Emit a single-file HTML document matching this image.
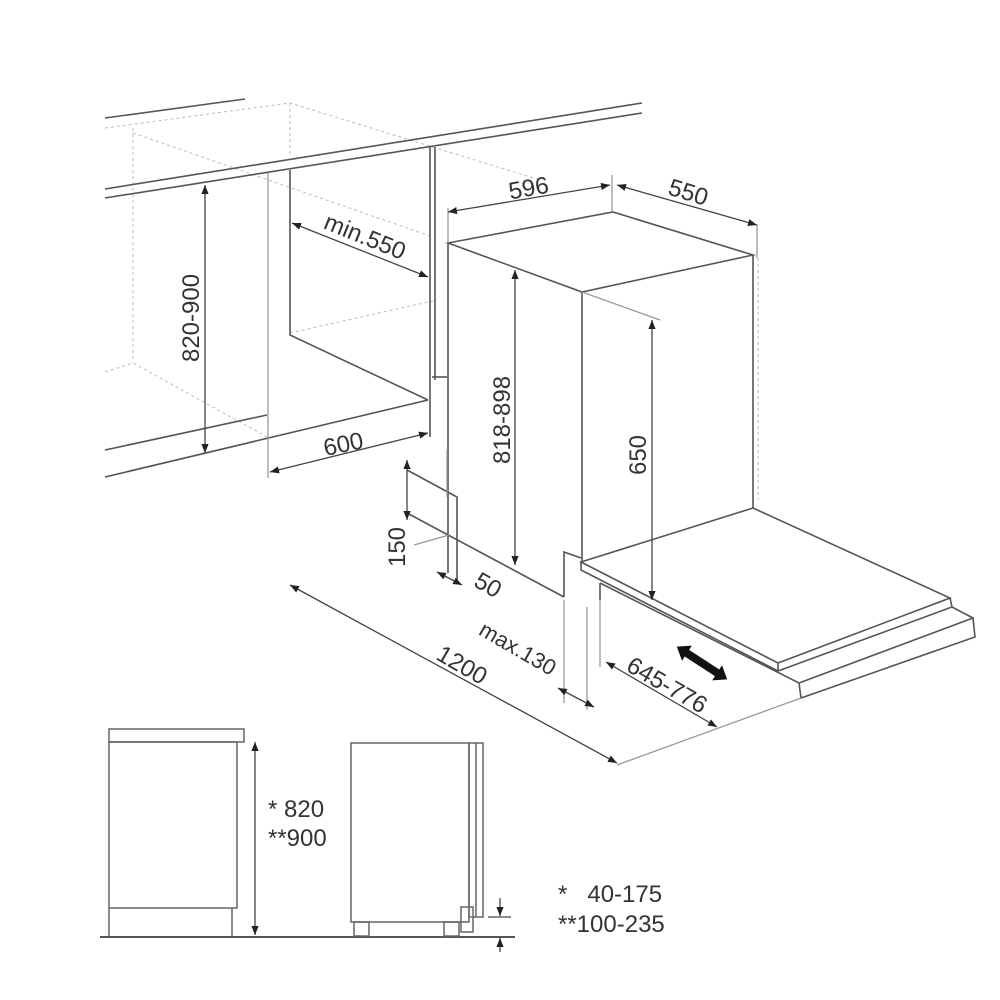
<!DOCTYPE html>
<html><head><meta charset="utf-8"><style>
html,body{margin:0;padding:0;background:#fff;width:1000px;height:1000px;overflow:hidden}
svg{display:block}
text{font-family:"Liberation Sans",sans-serif;fill:#333}
</style></head><body>
<svg width="1000" height="1000" viewBox="0 0 1000 1000" xmlns="http://www.w3.org/2000/svg">
<defs>
<marker id="a" viewBox="0 0 10 10" refX="10" refY="5" markerWidth="9" markerHeight="9" orient="auto-start-reverse" markerUnits="userSpaceOnUse"><path d="M0,1 L10,5 L0,9 z" fill="#222"/></marker>
</defs>
<g fill="none" stroke="#bbb" stroke-width="1" stroke-dasharray="3,3">
<path d="M105,128 L290,103 L540,180"/>
<path d="M290,103 L290,157"/>
<path d="M133,128 L133,363"/>
<path d="M133,133 L433,237"/>
<path d="M105,372 L133,363 L267,437"/>
<path d="M290,333 L437,300"/>
<path d="M758,258 L758,500"/>
</g>
<g fill="none" stroke="#555" stroke-width="1.6">
<path d="M105,118 L245,99"/>
<path d="M105,189 L642,103"/>
<path d="M105,198 L642,113"/>
<path d="M105,450 L267,415"/>
<path d="M105,477 L428,400"/>
<path d="M290,170 L290,335 L428,400"/>
<path d="M430,147 L430,437"/>
<path d="M435,147 L435,380"/>
<path d="M432,377 L447,377"/>
<path d="M448,243 L613,212 L753,255 L582,292 Z"/>
<path d="M448,243 L448,573"/>
<path d="M582,292 L582,562"/>
<path d="M753,255 L753,508"/>
<path d="M407,470 L457,497 L457,583"/>
<path d="M407,513 L564,597"/>
<path d="M564,597 L564,552 L581,558"/>
<path d="M581,562 L753,508 L950,598 L778,663 Z"/>
<path d="M581,562 L581,570 L778,671 L952,607 L950,598"/>
<path d="M778,663 L778,671"/>
<path d="M600,583 L799,683 L973,618 L975,637 L801,698 L799,683"/>
<path d="M952,607 L973,618"/>
<path d="M600,583 L600,600"/>
</g>
<g fill="none" stroke="#999" stroke-width="1.3">
<path d="M268,173 L268,478"/>
<path d="M448,208 L448,243"/>
<path d="M612,175 L612,212"/>
<path d="M757,225 L757,258"/>
<path d="M582,292 L660,320"/>
<path d="M447,450 L447,497"/>
<path d="M414,545 L449,535"/>
<path d="M564,600 L564,703"/>
<path d="M587,607 L587,710"/>
<path d="M600,600 L600,667"/>
<path d="M617,765 L801,698"/>
</g>
<g fill="none" stroke="#444" stroke-width="1.3" marker-start="url(#a)" marker-end="url(#a)">
<path d="M205,185 L205,453"/>
<path d="M292,223 L428,277"/>
<path d="M270,472 L428,433"/>
<path d="M448,212 L610,185"/>
<path d="M617,185 L757,225"/>
<path d="M515,270 L515,565"/>
<path d="M652,320 L652,600"/>
<path d="M437,572 L462,585"/>
<path d="M558,688 L594,707"/>
<path d="M606,662 L717,727"/>
<path d="M290,585 L617,763"/>
</g>
<path d="M407,460 L407,520" stroke="#444" stroke-width="1.3" marker-start="url(#a)" marker-end="url(#a)"/>
<g transform="translate(702,663) rotate(33)"><path d="M-30,0 L-18,-9 L-18,-4 L18,-4 L18,-9 L30,0 L18,9 L18,4 L-18,4 L-18,9 Z" fill="#111"/></g>
<g font-size="24">
<text transform="translate(199,318) rotate(-90)" text-anchor="middle">820-900</text>
<text transform="translate(362,244) rotate(22)" text-anchor="middle">min.550</text>
<text transform="translate(345,452) rotate(-12)" text-anchor="middle">600</text>
<text transform="translate(530,196) rotate(-10)" text-anchor="middle">596</text>
<text transform="translate(686,200) rotate(17)" text-anchor="middle">550</text>
<text transform="translate(510,420) rotate(-90)" text-anchor="middle">818-898</text>
<text transform="translate(646,455) rotate(-90)" text-anchor="middle">650</text>
<text transform="translate(405,547) rotate(-90)" text-anchor="middle">150</text>
<text transform="translate(484,592) rotate(30)" text-anchor="middle">50</text>
<text transform="translate(514,655) rotate(30)" text-anchor="middle" font-size="22">max.130</text>
<text transform="translate(458,672) rotate(30)" text-anchor="middle">1200</text>
<text transform="translate(663,692) rotate(30)" text-anchor="middle">645-776</text>
</g>
<g fill="none" stroke="#666" stroke-width="1.5">
<rect x="109" y="729" width="135" height="13"/>
<rect x="109" y="742" width="128" height="166"/>
<path d="M109,908 L109,937 M232,908 L232,937"/>
<path d="M100,937 L515,937" stroke="#555" stroke-width="2"/>
<rect x="351" y="743" width="118" height="179"/>
<rect x="469" y="743" width="14" height="174"/>
<path d="M476,743 L476,917"/>
<rect x="354" y="922" width="15" height="14"/>
<rect x="444" y="922" width="15" height="14"/>
<rect x="461" y="907" width="12" height="25"/>
<path d="M488,917 L511,917"/>
</g>
<path d="M255,742 L255,935" stroke="#444" stroke-width="1.3" marker-start="url(#a)" marker-end="url(#a)"/>
<path d="M500,898 L500,916" stroke="#444" stroke-width="1.3" marker-end="url(#a)"/>
<path d="M500,952 L500,938" stroke="#444" stroke-width="1.3" marker-end="url(#a)"/>
<g font-size="24">
<text x="268" y="817">* 820</text>
<text x="268" y="846">**900</text>
<text x="558" y="902" xml:space="preserve">*   40-175</text>
<text x="558" y="932">**100-235</text>
</g>
</svg>
</body></html>
